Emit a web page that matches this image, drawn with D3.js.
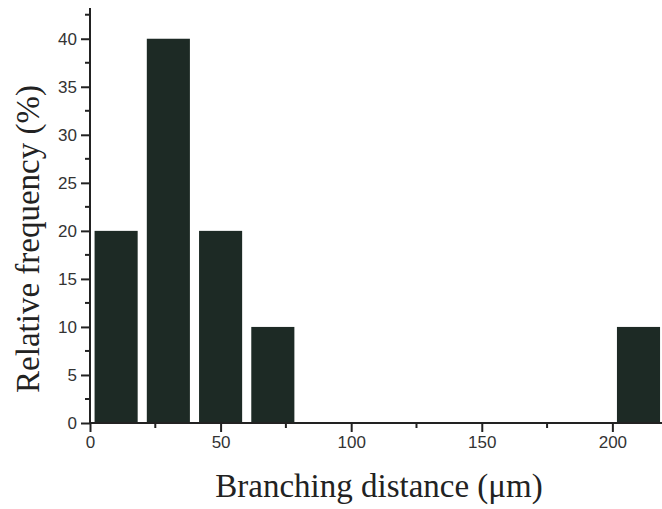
<!DOCTYPE html>
<html>
<head>
<meta charset="utf-8">
<script src="https://cdn.jsdelivr.net/npm/d3@7"></script>
<style>
  html, body { margin: 0; padding: 0; background: #fff; }
  svg { display: block; }
  .tick text { font-family: "Liberation Sans", Arial, sans-serif; font-size: 17px; fill: #333; }
</style>
</head>
<body>
<svg id="chart" width="662" height="509"></svg>
<script>
// Histogram of branching distances (bin centres in µm, relative frequency in %)
const binCenters = [10, 30, 50, 70, 210];
const frequencies = [20, 40, 20, 10, 10];
const barWidthUnits = 16.5;
const xTicks = [0, 50, 100, 150, 200];
const yTicks = [0, 5, 10, 15, 20, 25, 30, 35, 40];
const xTitle = "Branching distance (\u03bcm)";
const yTitle = "Relative frequency (%)";

const svg = d3.select("#chart");
const W = 662, H = 509;
const mLeft = 90, mBottom = 423, mTop = 8;

const x = d3.scaleLinear().domain([0, 219]).range([mLeft, 662]);
const y = d3.scaleLinear().domain([0, 43.2]).range([mBottom, mTop]);

// clip to plotting area
svg.append("defs").append("clipPath").attr("id", "plot")
  .append("rect").attr("x", mLeft).attr("y", 0).attr("width", W - mLeft).attr("height", mBottom);

const barColor = "#1d2a25";
svg.append("g").attr("clip-path", "url(#plot)")
  .selectAll("rect").data(binCenters).join("rect")
  .attr("x", (d) => x(d - barWidthUnits / 2))
  .attr("width", (d) => x(d + barWidthUnits / 2) - x(d - barWidthUnits / 2))
  .attr("y", (d, i) => y(frequencies[i]))
  .attr("height", (d, i) => y(0) - y(frequencies[i]))
  .attr("fill", barColor);

const axisColor = "#222";
// x axis
const xAxis = d3.axisBottom(x).tickValues(xTicks).tickSize(9).tickSizeOuter(0).tickPadding(4);
const gx = svg.append("g").attr("transform", `translate(0,${mBottom})`).call(xAxis)
  .attr("font-size", 17).attr("font-family", "Liberation Sans, Arial, sans-serif");
gx.select(".domain").attr("stroke", axisColor).attr("stroke-width", 2).attr("d", `M${mLeft},0H${W}`);
gx.selectAll(".tick line").attr("stroke", axisColor).attr("stroke-width", 2);
// x minor ticks
svg.append("g").selectAll("line").data([25, 75, 125, 175]).join("line")
  .attr("x1", (d) => x(d)).attr("x2", (d) => x(d))
  .attr("y1", mBottom).attr("y2", mBottom + 5)
  .attr("stroke", axisColor).attr("stroke-width", 2);

// y axis
const yAxis = d3.axisLeft(y).tickValues(yTicks).tickSize(9).tickSizeOuter(0).tickPadding(4);
const gy = svg.append("g").attr("transform", `translate(${mLeft},0)`).call(yAxis)
  .attr("font-size", 17).attr("font-family", "Liberation Sans, Arial, sans-serif");
gy.select(".domain").attr("stroke", axisColor).attr("stroke-width", 2).attr("d", `M0,${mBottom}V${mTop}`);
gy.selectAll(".tick line").attr("stroke", axisColor).attr("stroke-width", 2);
// y minor ticks
svg.append("g").selectAll("line").data(d3.range(2.5, 43, 5)).join("line")
  .attr("x1", mLeft - 5).attr("x2", mLeft)
  .attr("y1", (d) => y(d)).attr("y2", (d) => y(d))
  .attr("stroke", axisColor).attr("stroke-width", 2);

// axis titles
svg.append("text")
  .attr("x", 379).attr("y", 497)
  .attr("text-anchor", "middle")
  .style("font-family", "Liberation Serif, Times New Roman, serif")
  .style("font-size", "33px").attr("fill", "#222")
  .text(xTitle);

svg.append("text")
  .attr("transform", `translate(39,239) rotate(-90)`)
  .attr("text-anchor", "middle")
  .style("font-family", "Liberation Serif, Times New Roman, serif")
  .style("font-size", "33px").attr("fill", "#222")
  .text(yTitle);
</script>
</body>
</html>
